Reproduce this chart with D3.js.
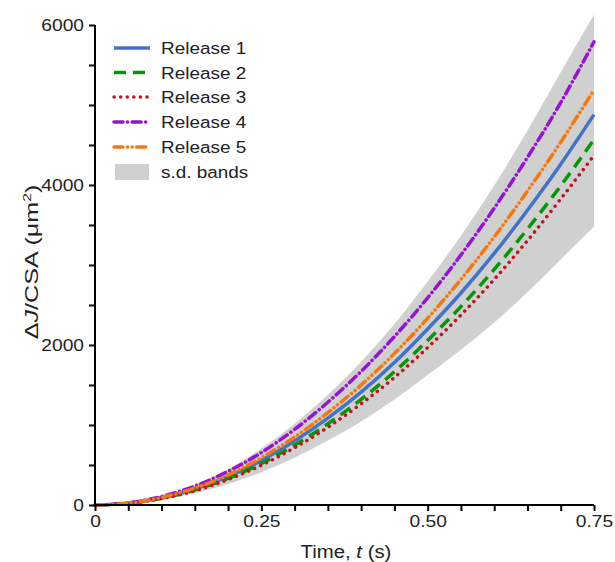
<!DOCTYPE html>
<html><head><meta charset="utf-8">
<script src="https://cdn.jsdelivr.net/npm/d3@7"></script>
<style>body{margin:0;background:#fff}svg{font-family:"Liberation Sans",Arial,sans-serif}</style>
</head><body><svg id="c" width="615" height="562"></svg>
<script>
const times = [0,0.05,0.1,0.15,0.2,0.25,0.3,0.35,0.4,0.45,0.5,0.55,0.6,0.65,0.7,0.75];
const release1 = [0,22,90,200,355,555,800,1085,1410,1780,2200,2650,3145,3685,4260,4880];
const release2 = [0,21,84,187,332,519,748,1015,1320,1665,2057,2480,2945,3450,3990,4570];
const release3 = [0,20,80,178,318,497,716,972,1265,1595,1968,2375,2820,3305,3825,4370];
const release4 = [0,26,106,236,420,655,945,1285,1670,2105,2590,3125,3710,4345,5030,5790];
const release5 = [0,23,95,212,377,590,850,1155,1500,1893,2335,2820,3350,3925,4535,5190];
const bandUpper = [0,28,114,254,451,705,1016,1378,1791,2261,2794,3366,3994,4680,5410,6130];
const bandLower = [0,16,65,146,262,410,592,805,1045,1320,1625,1940,2280,2660,3070,3480];
const seriesNames = ["Release 1","Release 2","Release 3","Release 4","Release 5"];
const xTickLabels = ["0","0.25","0.50","0.75"];
const yTickLabels = ["0","2000","4000","6000"];

const series = [
  {name:seriesNames[0], v:release1, color:"#4472C4", dash:null, cap:"butt"},
  {name:seriesNames[1], v:release2, color:"#079407", dash:"12,7", cap:"butt"},
  {name:seriesNames[2], v:release3, color:"#C0141E", dash:"0.1,6.5", cap:"round"},
  {name:seriesNames[3], v:release4, color:"#9315CC", dash:"9,4.5,0.1,4.5", cap:"round"},
  {name:seriesNames[4], v:release5, color:"#F4770F", dash:"9,4.5,0.1,4.5,0.1,4.5", cap:"round"}
];

const svg = d3.select("#c");
const x = d3.scaleLinear().domain([0,0.75]).range([95,594]);
const y = d3.scaleLinear().domain([0,6000]).range([505,25]);

// band
const area = d3.area().x((d,i)=>x(times[i])).y0((d,i)=>y(bandLower[i])).y1((d,i)=>y(bandUpper[i])).curve(d3.curveMonotoneX);
svg.append("path").datum(times).attr("d",area).attr("fill","#D0D0D0");

// lines
const line = d3.line().x((d,i)=>x(times[i])).y(d=>y(d)).curve(d3.curveMonotoneX);
series.forEach(s=>{
  svg.append("path").datum(s.v).attr("d",line).attr("fill","none")
    .attr("stroke",s.color).attr("stroke-width",3.5)
    .attr("stroke-dasharray",s.dash).attr("stroke-linecap",s.cap);
});

// axes
const yAxis = d3.axisLeft(y).tickValues(d3.range(0,6001,500)).tickSize(6)
  .tickFormat(d=> d%2000===0 ? yTickLabels[d/2000] : "");
const gy = svg.append("g").attr("transform","translate(95,0)").call(yAxis);
const xAxis = d3.axisBottom(x).tickValues(d3.range(0,16).map(i=>i*0.05)).tickSize(6)
  .tickFormat((d,i)=> i%5===0 ? xTickLabels[i/5] : "");
const gx = svg.append("g").attr("transform","translate(0,505)").call(xAxis);
[gx,gy].forEach(g=>{
  g.select(".domain").attr("stroke","#000").attr("stroke-width",2);
  g.selectAll(".tick line").attr("stroke","#000").attr("stroke-width",2);
  g.selectAll(".tick text").attr("font-size",16).attr("fill","#222").attr("font-family","Liberation Sans, Arial, sans-serif")
    .attr("transform","scale(1.2,1)");
});
gx.select(".domain").attr("d","M95,0H594");
gy.select(".domain").attr("d","M0,25V506");
gy.selectAll(".tick text").attr("x",-11/1.2);
gx.selectAll(".tick text").attr("y",11);

// axis titles
const yt = svg.append("text").attr("transform","translate(38,262) rotate(-90) scale(1.4,1)")
  .attr("text-anchor","middle").attr("font-size",18).attr("fill","#222");
yt.append("tspan").text("Δ");
yt.append("tspan").attr("font-style","italic").text("J");
yt.append("tspan").text("/CSA (μm");
yt.append("tspan").attr("font-size",11).attr("dy",-7).text("2");
yt.append("tspan").attr("dy",7).text(")");

const xt = svg.append("text").attr("transform","translate(346,558) scale(1.1,1)").attr("text-anchor","middle")
  .attr("font-size",18.5).attr("fill","#222");
xt.append("tspan").text("Time, ");
xt.append("tspan").attr("font-style","italic").text("t");
xt.append("tspan").text(" (s)");

// legend
const lg = svg.append("g");
const rowY = [48,72.5,97,122,147,172];
series.forEach((s,i)=>{
  lg.append("line").attr("x1",114).attr("x2",150).attr("y1",rowY[i]).attr("y2",rowY[i])
    .attr("stroke",s.color).attr("stroke-width",3.5).attr("stroke-dasharray",s.dash).attr("stroke-linecap",s.cap);
  lg.append("text").attr("transform",`translate(161,${rowY[i]+6.3}) scale(1.1,1)`).attr("font-size",17.2).attr("fill","#222").text(s.name);
});
lg.append("rect").attr("x",115).attr("y",rowY[5]-8).attr("width",34).attr("height",16).attr("fill","#D0D0D0");
lg.append("text").attr("transform",`translate(161,${rowY[5]+6.3}) scale(1.1,1)`).attr("font-size",17.2).attr("fill","#222").text("s.d. bands");
</script></body></html>
